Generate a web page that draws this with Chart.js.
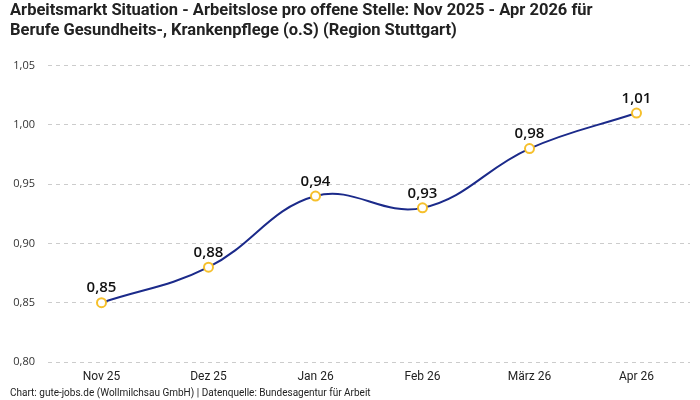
<!DOCTYPE html>
<html>
<head>
<meta charset="utf-8">
<script src="https://cdn.jsdelivr.net/npm/chart.js@4"></script>
<style>
  html, body { margin: 0; padding: 0; background: #fff; }
  #wrap { width: 700px; height: 400px; }
</style>
</head>
<body>
<div id="wrap"><canvas id="chart"></canvas></div>
<script>
const labels = ['Nov 25', 'Dez 25', 'Jan 26', 'Feb 26', 'März 26', 'Apr 26'];
const values = [0.85, 0.88, 0.94, 0.93, 0.98, 1.01];
const yTicks = [0.80, 0.85, 0.90, 0.95, 1.00, 1.05];
const footerText = 'Chart: gute-jobs.de (Wollmilchsau GmbH) | Datenquelle: Bundesagentur für Arbeit';

const fmt = v => v.toFixed(2).replace('.', ',');

// Werte ueber die Punkte schreiben + Quellenzeile unten
const valueLabels = {
    id: 'valueLabels',
    afterDatasetsDraw(chart) {
        const ctx = chart.ctx;
        const meta = chart.getDatasetMeta(0);
        ctx.save();
        ctx.font = '600 15px "Open Sans"';
        ctx.fillStyle = '#111';
        ctx.textAlign = 'center';
        ctx.textBaseline = 'bottom';
        meta.data.forEach((pt, i) => {
            ctx.fillText(fmt(values[i]), pt.x, pt.y - 7);
        });
        ctx.font = '10px Roboto';
        ctx.fillStyle = '#222';
        ctx.textAlign = 'left';
        ctx.textBaseline = 'middle';
        ctx.fillText(footerText, 10, chart.height - 7);
        ctx.restore();
    }
};

new Chart(document.getElementById('chart'), {
    type: 'line',
    data: {
        labels: labels,
        datasets: [{
            data: values,
            borderColor: '#1b2a8a',
            borderWidth: 2,
            tension: 0.4,
            pointRadius: 4.5,
            pointBorderWidth: 2,
            pointBackgroundColor: '#ffffff',
            pointBorderColor: '#f6c02c'
        }]
    },
    options: {
        responsive: true,
        maintainAspectRatio: false,
        animation: false,
        layout: { padding: { left: 10, right: 10, top: 1, bottom: 8 } },
        plugins: {
            legend: { display: false },
            tooltip: { enabled: false },
            title: {
                display: true,
                align: 'start',
                text: ['Arbeitsmarkt Situation - Arbeitslose pro offene Stelle: Nov 2025 - Apr 2026 für',
                       'Berufe Gesundheits-, Krankenpflege (o.S) (Region Stuttgart)'],
                color: '#222',
                font: { family: 'Roboto', size: 16.5, weight: 'bold', lineHeight: 1.2 },
                padding: { top: 0, bottom: 25 }
            }
        },
        scales: {
            x: {
                offset: true,
                grid: { display: false, drawTicks: false },
                border: { display: false },
                ticks: {
                    color: '#222',
                    font: { family: 'Roboto', size: 12, lineHeight: 1 },
                    padding: 9
                }
            },
            y: {
                min: yTicks[0],
                max: yTicks[yTicks.length - 1],
                afterBuildTicks: axis => { axis.ticks = yTicks.map(v => ({ value: v })); },
                afterFit: axis => { axis.width = 38; },
                grid: { color: '#cccccc', drawTicks: false },
                border: { display: false, dash: [4, 4] },
                ticks: {
                    color: '#333',
                    font: { family: '"Open Sans"', size: 11 },
                    padding: 13,
                    callback: v => fmt(v)
                }
            }
        }
    },
    plugins: [valueLabels]
});
</script>
</body>
</html>
